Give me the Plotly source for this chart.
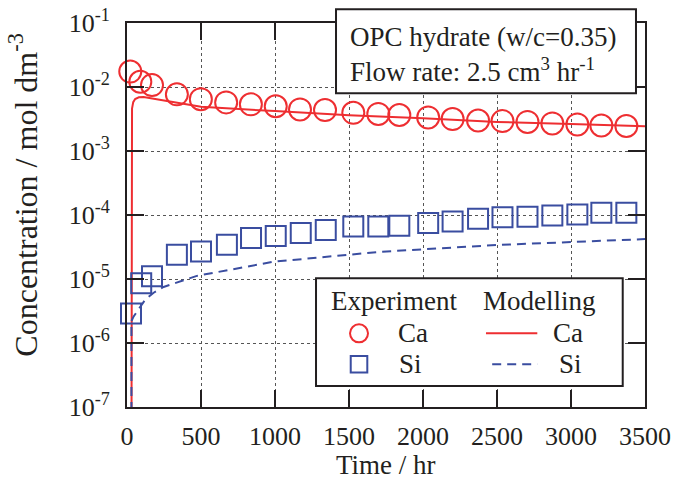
import plotly.graph_objects as go

# ---------------- data ----------------
ca_time = [22, 90, 169, 337, 499, 670, 837, 1005, 1169, 1338, 1529, 1698, 1840,
           2035, 2200, 2372, 2537, 2706, 2874, 3043, 3205, 3374]
ca_exp = [0.0174, 0.0121, 0.0107, 0.00767, 0.00645, 0.00575, 0.00536, 0.0050,
          0.00446, 0.00436, 0.00395, 0.0038, 0.00365, 0.00335, 0.00315, 0.0030,
          0.00293, 0.00285, 0.0027, 0.0026, 0.0025, 0.00246]

si_time = [27, 96, 169, 337, 500, 675, 838, 1005, 1174, 1343, 1529, 1698, 1840,
           2035, 2200, 2372, 2537, 2706, 2874, 3043, 3205, 3374]
si_exp = [2.9e-6, 8.6e-6, 1.1e-5, 2.4e-5, 2.7e-5, 3.43e-5, 4.37e-5, 4.7e-5,
          5.25e-5, 5.85e-5, 6.6e-5, 6.6e-5, 6.8e-5, 7.5e-5, 7.9e-5, 8.7e-5,
          9.2e-5, 9.4e-5, 9.8e-5, 1.02e-4, 1.08e-4, 1.08e-4]

ca_model_time = [30, 30, 34, 42, 55, 80, 112, 300, 500, 1000, 1500, 2000, 2500, 3000, 3500]
ca_model = [1e-8, 0.0030, 0.0046, 0.0058, 0.0065, 0.0069, 0.0070, 0.0059, 0.0049,
            0.0042, 0.00363, 0.00324, 0.00285, 0.00263, 0.00244]

si_model_time = [30, 30, 45, 90, 124, 180, 247, 304, 472, 990, 1709, 2497, 3500]
si_model = [1e-8, 2.2e-6, 2.6e-6, 3.6e-6, 4.8e-6, 6.1e-6, 7.5e-6, 8.3e-6, 1.12e-5,
            1.86e-5, 2.66e-5, 3.4e-5, 4.2e-5]

x_tick_vals = [0, 500, 1000, 1500, 2000, 2500, 3000, 3500]
y_tick_vals = [1e-7, 1e-6, 1e-5, 1e-4, 1e-3, 1e-2, 1e-1]
y_tick_text = ["10<sup>-7</sup>", "10<sup>-6</sup>", "10<sup>-5</sup>", "10<sup>-4</sup>",
               "10<sup>-3</sup>", "10<sup>-2</sup>", "10<sup>-1</sup>"]

# ---------------- styling ----------------
RED = "#EE2E31"
BLUE = "#3A4DA0"
INK = "#231F20"
FONT = "'Liberation Serif', 'Times New Roman', Times, serif"
FS = 26

fig = go.Figure()
fig.add_trace(go.Scatter(x=ca_model_time, y=ca_model, mode="lines",
                         line=dict(color=RED, width=2)))
fig.add_trace(go.Scatter(x=si_model_time, y=si_model, mode="lines",
                         line=dict(color=BLUE, width=2, dash="9px,6px")))
fig.add_trace(go.Scatter(x=ca_time, y=ca_exp, mode="markers", cliponaxis=False,
                         marker=dict(symbol="circle-open", size=22, color=RED,
                                     line=dict(width=2, color=RED))))
fig.add_trace(go.Scatter(x=si_time, y=si_exp, mode="markers", cliponaxis=False,
                         marker=dict(symbol="square-open", size=20, color=BLUE,
                                     line=dict(width=2, color=BLUE))))

axis_common = dict(ticks="inside", ticklen=17, tickwidth=2, tickcolor=INK,
                   showline=True, linewidth=2, linecolor=INK, mirror="ticks",
                   showgrid=True, gridcolor="#555555", griddash="dot", gridwidth=1,
                   zeroline=False, automargin=False,
                   tickfont=dict(family=FONT, size=FS, color=INK))
fig.update_xaxes(range=[0, 3500], tickvals=x_tick_vals, ticklabelstandoff=5, **axis_common)
fig.update_yaxes(type="log", range=[-7, -1], tickvals=y_tick_vals,
                 ticktext=y_tick_text, ticklabelstandoff=10, **axis_common)

# ---------------- annotation boxes (paper coordinates) ----------------
shapes = [
    # info box
    dict(type="rect", xref="paper", yref="paper", x0=0.4035, x1=0.9826, y0=0.8169, y1=1.0357,
         line=dict(color=INK, width=2), fillcolor="white", layer="above"),
    # legend box
    dict(type="rect", xref="paper", yref="paper", x0=0.3649, x1=0.957, y0=0.0547, y1=0.3352,
         line=dict(color=INK, width=2), fillcolor="white", layer="above"),
    # legend symbols
    dict(type="circle", xref="paper", yref="paper", x0=0.4479 - 0.01737, x1=0.4479 + 0.01737,
         y0=0.1919 - 0.02344, y1=0.1919 + 0.02344, line=dict(color=RED, width=2), layer="above"),
    dict(type="rect", xref="paper", yref="paper", x0=0.4319, x1=0.4639, y0=0.0896, y1=0.1328,
         line=dict(color=BLUE, width=2), layer="above"),
    dict(type="line", xref="paper", yref="paper", x0=0.693, x1=0.7921, y0=0.1919, y1=0.1919,
         line=dict(color=RED, width=2), layer="above"),
    dict(type="line", xref="paper", yref="paper", x0=0.705, x1=0.7921, y0=0.1112, y1=0.1112,
         line=dict(color=BLUE, width=2, dash="9px,6px"), layer="above"),
]

def txt(s, x, y, size=FS + 1, xanchor="left", angle=0):
    return dict(text=s, x=x, y=y, xref="paper", yref="paper", showarrow=False,
                xanchor=xanchor, yanchor="middle", textangle=angle,
                font=dict(family=FONT, size=size, color=INK))

annotations = [
    txt("OPC hydrate (w/c=0.35)", 0.4266, 0.9643),
    txt("Flow rate: 2.5 cm<sup>3</sup> hr<sup>-1</sup>", 0.4266, 0.8776),
    txt("Experiment", 0.3905, 0.276),
    txt("Modelling", 0.6834, 0.276),
    txt("Ca", 0.5193, 0.1919),
    txt("Si", 0.5207, 0.1112),
    txt("Ca", 0.818, 0.1919),
    txt("Si", 0.8301, 0.1112),
    txt("Time / hr", 0.5, -0.152, xanchor="center"),
    txt("Concentration / mol dm<sup>-3</sup>", -0.2, 0.554, size=32, xanchor="center", angle=-90),
]

fig.update_layout(width=688, height=479, margin=dict(l=127, r=43, t=23, b=72, autoexpand=False),
                  paper_bgcolor="white", plot_bgcolor="white", showlegend=False,
                  font=dict(family=FONT, size=FS, color=INK),
                  shapes=shapes, annotations=annotations)

fig.write_html("out.html", config={"displayModeBar": False},
               post_script="document.body.style.margin='0';document.body.style.overflow='hidden';")
